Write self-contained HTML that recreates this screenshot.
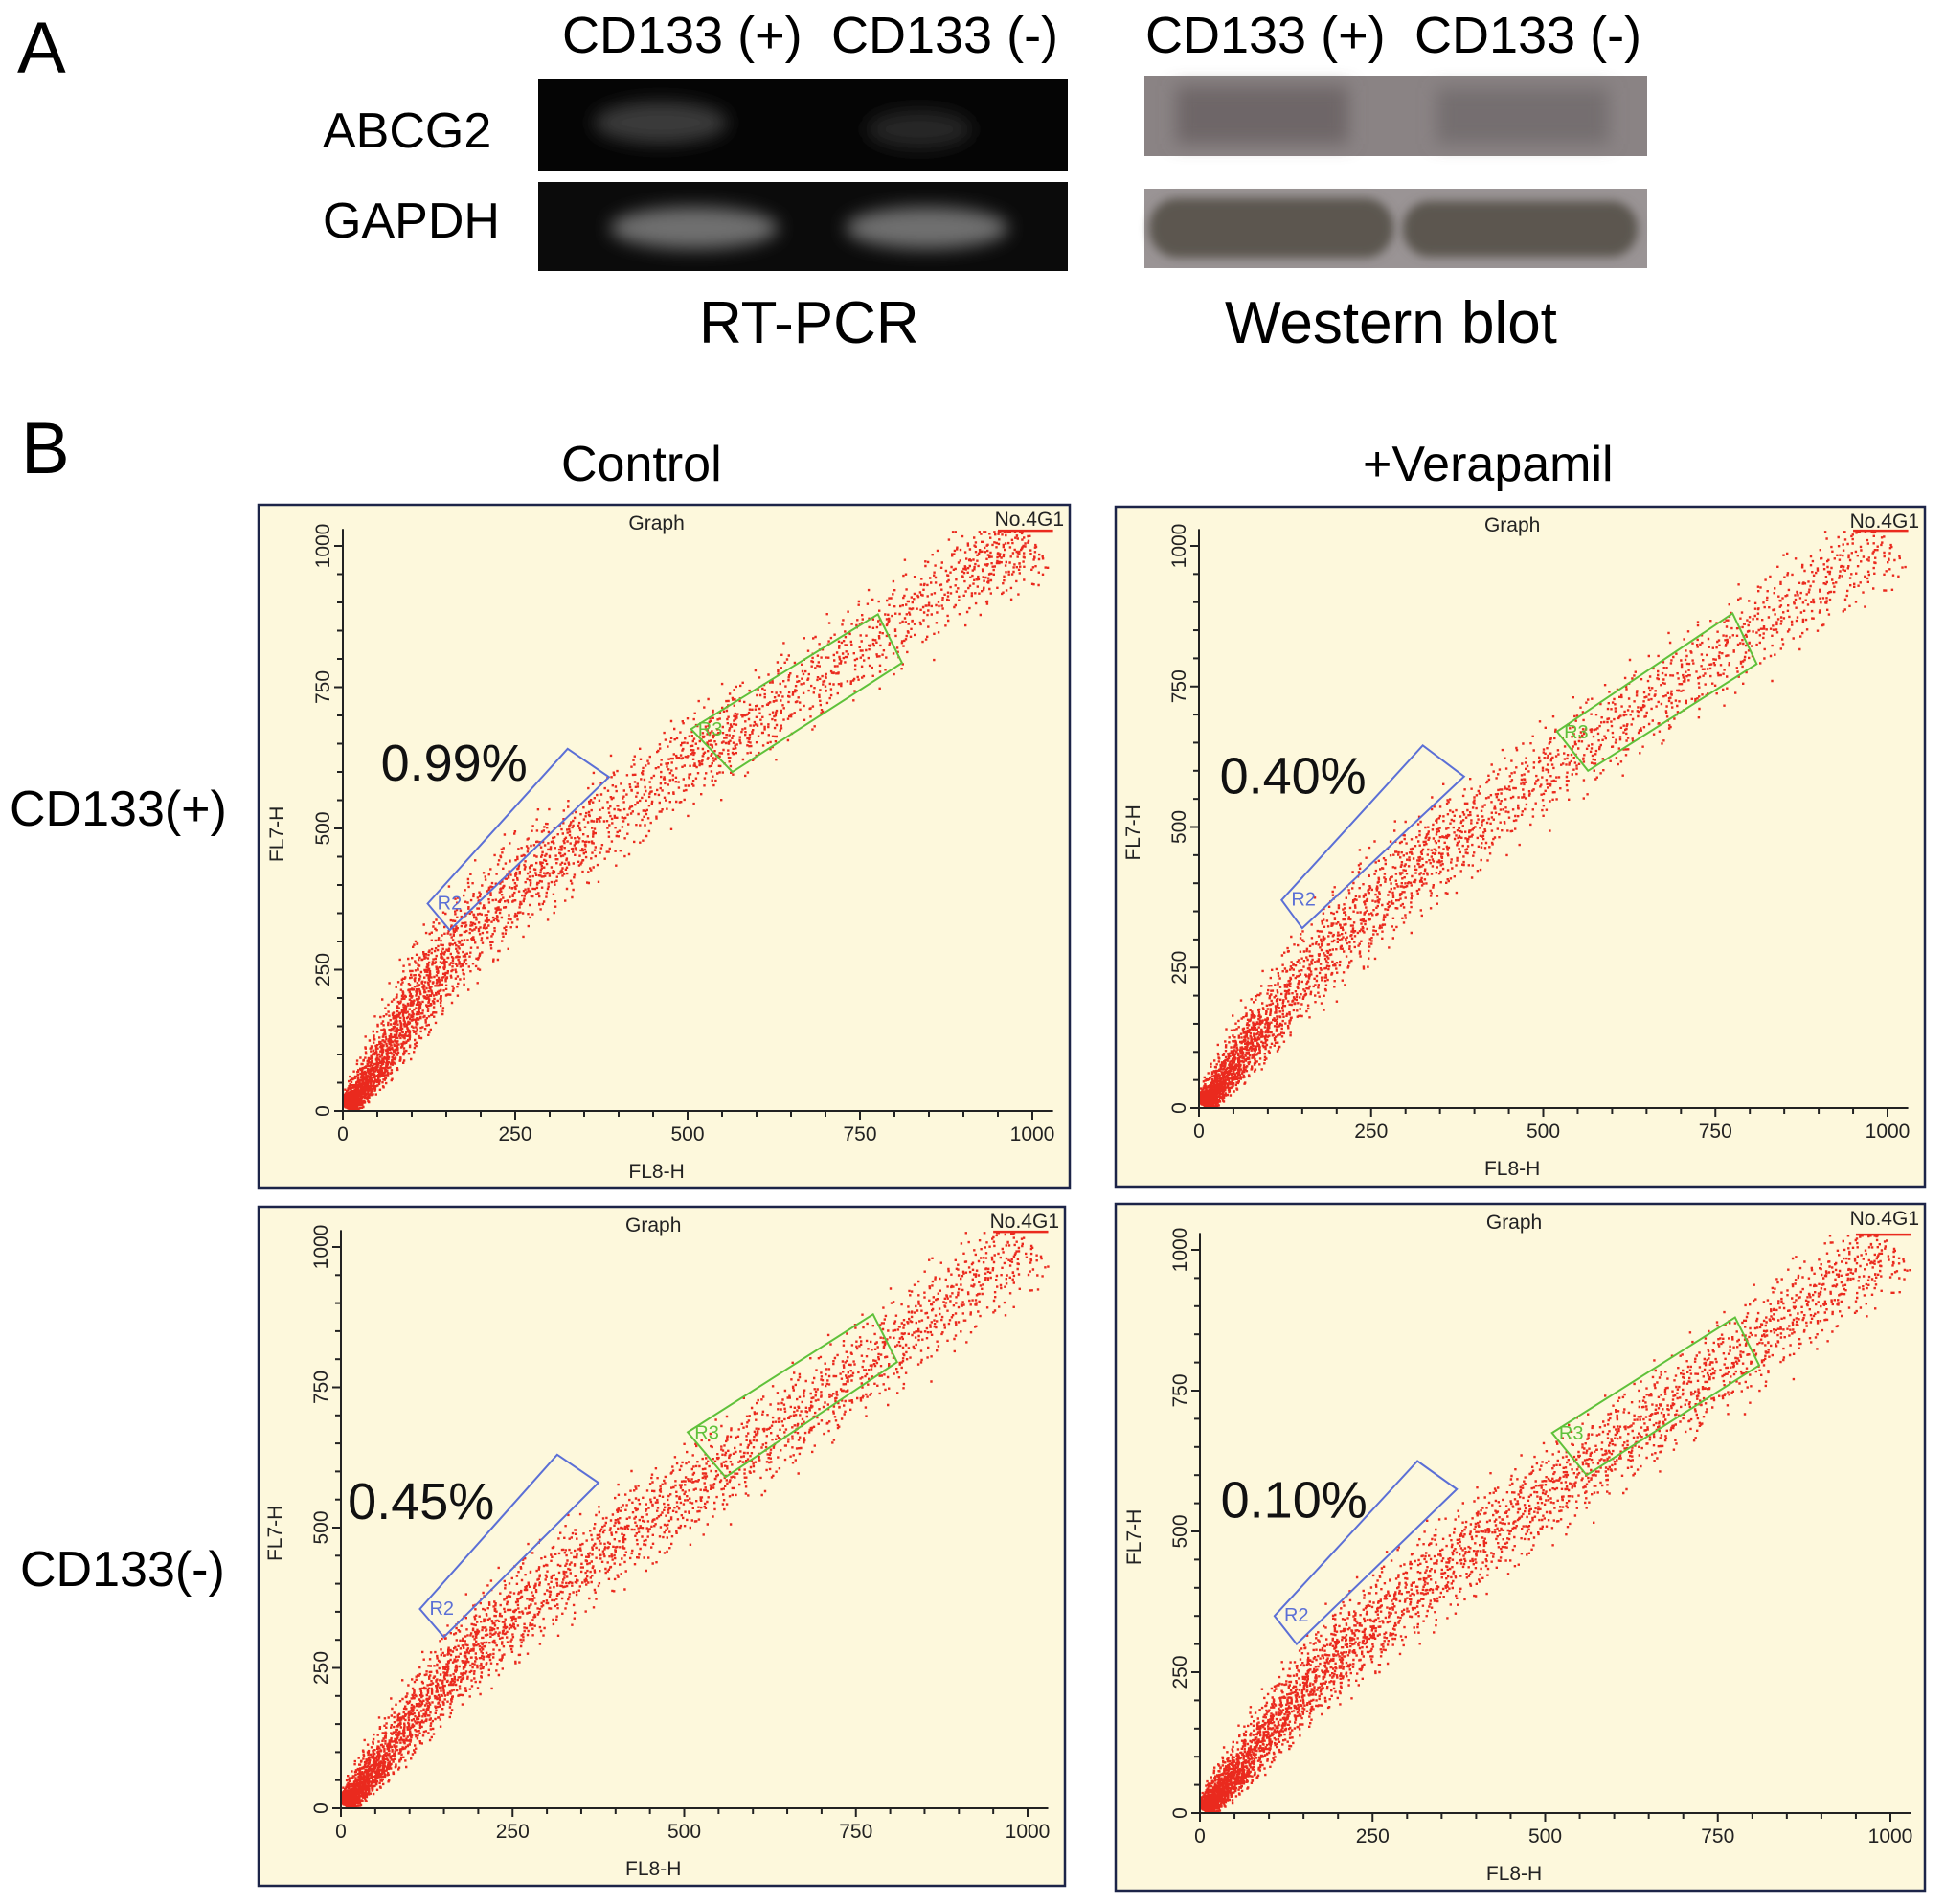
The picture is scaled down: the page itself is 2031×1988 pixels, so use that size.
<!DOCTYPE html>
<html><head><meta charset="utf-8"><style>
html,body{margin:0;padding:0;background:#fff;}
svg{display:block;font-family:"Liberation Sans",Arial,sans-serif;}
</style></head><body>
<svg id="fig" width="2031" height="1988" viewBox="0 0 2031 1988" xmlns="http://www.w3.org/2000/svg">
<defs>
<filter id="blur8" x="-20%" y="-50%" width="140%" height="200%"><feGaussianBlur stdDeviation="9"/></filter>
<filter id="blur5" x="-20%" y="-50%" width="140%" height="200%"><feGaussianBlur stdDeviation="5"/></filter>
</defs>
<!-- Panel A -->
<text x="18" y="76" font-size="76">A</text>
<g font-size="54">
<text x="587" y="55">CD133 (+)</text>
<text x="868" y="55">CD133 (-)</text>
<text x="1196" y="55">CD133 (+)</text>
<text x="1477" y="55">CD133 (-)</text>
</g>
<text x="337" y="154" font-size="52">ABCG2</text>
<text x="337" y="248" font-size="52">GAPDH</text>
<g>
<rect x="562" y="83" width="553" height="96" fill="#050505"/>
<ellipse cx="690" cy="128" rx="70" ry="22" fill="#3a3a3a" filter="url(#blur8)"/>
<ellipse cx="960" cy="135" rx="55" ry="20" fill="#262626" filter="url(#blur8)"/>
<rect x="562" y="190" width="553" height="93" fill="#0b0b0b"/>
<ellipse cx="725" cy="238" rx="88" ry="22" fill="#707070" filter="url(#blur8)"/>
<ellipse cx="968" cy="238" rx="85" ry="22" fill="#707070" filter="url(#blur8)"/>
</g>
<g>
<rect x="1195" y="79" width="525" height="84" fill="#8a8384"/>
<rect x="1228" y="90" width="180" height="60" fill="#6e6668" filter="url(#blur8)"/>
<rect x="1500" y="92" width="180" height="58" fill="#756e70" filter="url(#blur8)"/>
<rect x="1195" y="197" width="525" height="83" fill="#9a9495"/>
<rect x="1200" y="207" width="255" height="62" rx="30" fill="#5c5750" filter="url(#blur5)"/>
<rect x="1465" y="210" width="245" height="58" rx="28" fill="#5c5750" filter="url(#blur5)"/>
</g>
<text x="730" y="358" font-size="62">RT-PCR</text>
<text x="1279" y="358" font-size="62">Western blot</text>
<!-- Panel B -->
<text x="22" y="494" font-size="76">B</text>
<text x="586" y="502" font-size="52">Control</text>
<text x="1423" y="502" font-size="52">+Verapamil</text>
<text x="10" y="862" font-size="52">CD133(+)</text>
<text x="21" y="1656" font-size="52">CD133(-)</text>
<g id="plots"></g>
</svg>
<script>
// ---- data (data units 0-1000) ----
const tickValues = [0, 250, 500, 750, 1000];
const tickLabels = ["0", "250", "500", "750", "1000"];
const panelNames = ["control-cd133-pos", "verapamil-cd133-pos", "control-cd133-neg", "verapamil-cd133-neg"];
const percentLabels = ["0.99%", "0.40%", "0.45%", "0.10%"];
const percentX = [55, 30, 10, 30];
const percentY = [585, 560, 515, 525];
const curveX1 = [5, 50, 100, 150, 250, 350, 500, 600, 750, 900, 1000];
const curveY1 = [5, 80, 180, 280, 400, 490, 620, 700, 820, 950, 1010];
const curveX2 = [5, 50, 100, 200, 300, 400, 550, 700, 850, 1000];
const curveY2 = [5, 75, 160, 300, 420, 510, 640, 760, 890, 1010];
const curveX3 = [5, 60, 150, 250, 400, 550, 700, 850, 1000];
const curveY3 = [5, 90, 230, 350, 480, 600, 730, 870, 1010];
const curveX4 = [5, 60, 150, 250, 400, 550, 700, 850, 1000];
const curveY4 = [5, 85, 220, 340, 480, 610, 740, 880, 1010];
const curvesX = [curveX1, curveX2, curveX3, curveX4];
const curvesY = [curveY1, curveY2, curveY3, curveY4];
const eventCounts = [3600, 3200, 3600, 4000];
const r2X = [[123,155,386,326],[120,150,385,325],[115,150,375,315],[108,140,372,315]];
const r2Y = [[367,320,591,641],[370,320,590,645],[355,305,580,630],[350,300,575,625]];
const r3X = [[505,565,811,776],[520,565,810,775],[505,560,810,775],[510,560,810,775]];
const r3Y = [[676,600,793,879],[670,600,790,880],[670,590,795,880],[675,600,795,880]];

// ---- layout ----
const panelBox = [[270,527,847,713],[1165,529,845,710],[270,1260,842,709],[1165,1257,845,717]];
const axisX0 = [358,1252,356,1253], axisX1 = [1078,1971,1073,1974];
const axisY0 = [1160,1157,1888,1893], axisY1 = [570,570,1302,1305];

const NS = "http://www.w3.org/2000/svg";
const plots = document.getElementById("plots");
function mk(tag, attrs, parent){const e=document.createElementNS(NS,tag);for(const k in attrs)e.setAttribute(k,attrs[k]);parent.appendChild(e);return e;}
function halton(i,b){let f=1,r=0;while(i>0){f/=b;r+=f*(i%b);i=Math.floor(i/b);}return r;}

for(let p=0;p<4;p++){
  const sx=v=>axisX0[p]+(axisX1[p]-axisX0[p])*v/1000;
  const sy=v=>axisY0[p]-(axisY0[p]-axisY1[p])*v/1000;
  const g=mk("g",{},plots);
  
  
  const b=panelBox[p];
  const bg=mk("rect",{x:b[0],y:b[1],width:b[2],height:b[3],fill:"#fdf8dc",stroke:"#1c2448","stroke-width":2.5},g);
  
  
  // dots
  const cx=curvesX[p], cy=curvesY[p], n=cx.length;
  let d="";
  for(let i=1;i<=eventCounts[p];i++){
    const u=halton(i,2);
    const t=Math.pow(u,1.6)*(n-1);
    const k=Math.min(Math.floor(t),n-2), f=t-k;
    const px=cx[k]+(cx[k+1]-cx[k])*f, py=cy[k]+(cy[k+1]-cy[k])*f;
    let dx=cx[k+1]-cx[k], dy=cy[k+1]-cy[k]; const L=Math.hypot(dx,dy); dx/=L; dy/=L;
    const gs=(halton(i,3)+halton(i,5)+halton(i,7)-1.5)*2;
    const w=7+24*Math.min(1,t/(n-1)*2.5);
    let ox=px-dy*gs*w, oy=py+dx*gs*w;
    ox=Math.max(1,Math.min(1030,ox)); oy=Math.max(1,Math.min(1025,oy));
    d+="M"+sx(ox).toFixed(1)+" "+sy(oy).toFixed(1)+"h2.4";
  }
  const dots=mk("path",{d:d,stroke:"#ea2a1e","stroke-width":2.4,fill:"none"},g);
  
  
  const top=mk("line",{x1:sx(950),y1:sy(1027),x2:sx(1030),y2:sy(1027),stroke:"#ea2a1e","stroke-width":2.5},g);
  
  
  // axes
  const ax=mk("path",{d:`M${sx(0)} ${sy(1030)}V${sy(0)}H${sx(1030)}`,stroke:"#222",fill:"none","stroke-width":2},g);
  
  
  for(let v=0;v<=1000;v+=50){
    const len=(v%250===0)?9:6;
    mk("line",{x1:sx(v),y1:sy(0),x2:sx(v),y2:sy(0)+len,stroke:"#222","stroke-width":2},g);
    mk("line",{x1:sx(0),y1:sy(v),x2:sx(0)-len,y2:sy(v),stroke:"#222","stroke-width":2},g);
  }
  tickValues.forEach((v,i)=>{
    const tx=mk("text",{x:sx(v),y:sy(0)+31,"font-size":21,"text-anchor":"middle",fill:"#222"},g);
    tx.textContent=tickLabels[i];
    
    
    const lx=sx(0)-14;
    const ty=mk("text",{x:lx,y:sy(v),"font-size":21,"text-anchor":"middle",fill:"#222",transform:`rotate(-90 ${lx} ${sy(v)})`},g);
    ty.textContent=tickLabels[i];
    
    
  });
  const xt=mk("text",{x:sx(455),y:sy(0)+70,"font-size":21,"text-anchor":"middle",fill:"#222"},g);
  xt.textContent="FL8-H";
  
  
  const yx=sx(0)-62, yy=sy(490);
  const yt=mk("text",{x:yx,y:yy,"font-size":21,"text-anchor":"middle",fill:"#222",transform:`rotate(-90 ${yx} ${yy})`},g);
  yt.textContent="FL7-H";
  
  
  const gt=mk("text",{x:sx(455),y:b[1]+26,"font-size":21,"text-anchor":"middle",fill:"#222"},g);
  gt.textContent="Graph";
  
  
  const nt=mk("text",{x:b[0]+b[2]-6,y:b[1]+22,"font-size":21,"text-anchor":"end",fill:"#222"},g);
  nt.textContent="No.4G1";
  
  
  // gates
  const r2=mk("polygon",{points:r2X[p].map((x,i)=>sx(x)+","+sy(r2Y[p][i])).join(" "),fill:"none",stroke:"#5b6fd6","stroke-width":2},g);
  
  
  const r2t=mk("text",{x:sx(r2X[p][0]+14),y:sy(r2Y[p][0]-10),"font-size":20,fill:"#5b6fd6"},g);
  r2t.textContent="R2";
  
  
  const r3=mk("polygon",{points:r3X[p].map((x,i)=>sx(x)+","+sy(r3Y[p][i])).join(" "),fill:"none",stroke:"#5fc13a","stroke-width":2},g);
  
  
  const r3t=mk("text",{x:sx(r3X[p][0]+10),y:sy(r3Y[p][0]-12),"font-size":20,fill:"#5fc13a"},g);
  r3t.textContent="R3";
  
  
  const pt=mk("text",{x:sx(percentX[p]),y:sy(percentY[p]),"font-size":54,fill:"#111"},g);
  pt.textContent=percentLabels[p];
  
  
}
</script>
</body></html>
